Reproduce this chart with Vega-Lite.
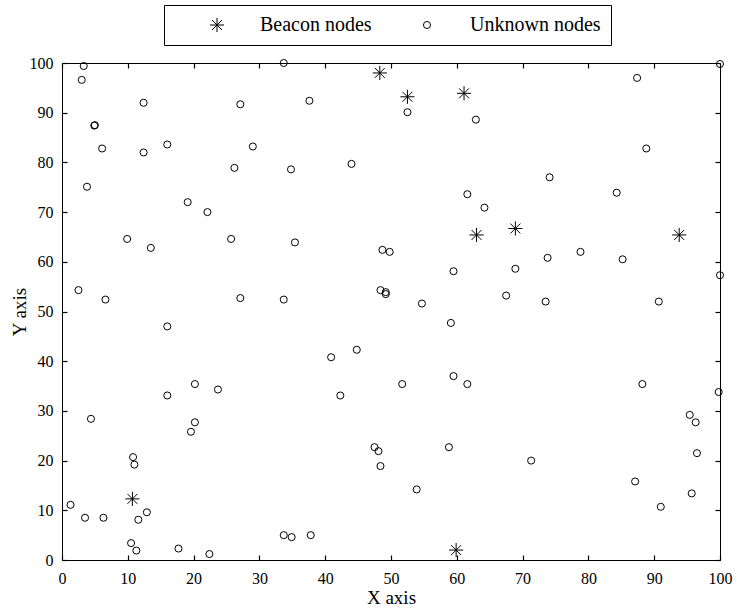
{
  "$schema": "https://vega.github.io/schema/vega-lite/v6.json",
  "width": 658,
  "height": 497,
  "autosize": {"type": "none"},
  "padding": {"left": 62, "top": 63, "right": 17, "bottom": 50},
  "background": "white",
  "config": {
    "font": "Liberation Serif",
    "view": {"stroke": "black", "strokeWidth": 1},
    "axis": {
      "grid": false,
      "domain": false,
      "offset": -5,
      "tickSize": 5,
      "tickColor": "black",
      "tickWidth": 1.2,
      "labelColor": "black",
      "titleColor": "black",
      "labelFont": "Liberation Serif",
      "titleFont": "Liberation Serif",
      "labelFontSize": 16,
      "titleFontSize": 19,
      "titleFontWeight": "normal",
      "labelFlush": false,
      "labelOverlap": false
    },
    "legend": {
      "orient": "none",
      "legendX": 102,
      "legendY": -58,
      "direction": "horizontal",
      "strokeColor": "black",
      "fillColor": "white",
      "padding": 10,
      "labelFont": "Liberation Serif",
      "labelFontSize": 20,
      "labelColor": "black",
      "symbolOffset": 33,
      "labelOffset": 33,
      "columnPadding": 12,
      "symbolStrokeColor": "black",
      "symbolStrokeWidth": 1,
      "symbolFillColor": "transparent"
    }
  },
  "data": {
    "values": [
      {"x": 48.3, "y": 98.0, "t": "Beacon nodes"},
      {"x": 52.5, "y": 93.2, "t": "Beacon nodes"},
      {"x": 61.1, "y": 93.9, "t": "Beacon nodes"},
      {"x": 63.0, "y": 65.4, "t": "Beacon nodes"},
      {"x": 68.9, "y": 66.7, "t": "Beacon nodes"},
      {"x": 93.8, "y": 65.4, "t": "Beacon nodes"},
      {"x": 10.7, "y": 12.3, "t": "Beacon nodes"},
      {"x": 59.9, "y": 2.0, "t": "Beacon nodes"},
      {"x": 3.3, "y": 99.4, "t": "Unknown nodes"},
      {"x": 3.0, "y": 96.6, "t": "Unknown nodes"},
      {"x": 12.4, "y": 92.0, "t": "Unknown nodes"},
      {"x": 27.1, "y": 91.7, "t": "Unknown nodes"},
      {"x": 4.9, "y": 87.4, "t": "Unknown nodes"},
      {"x": 5.0, "y": 87.5, "t": "Unknown nodes"},
      {"x": 6.1, "y": 82.8, "t": "Unknown nodes"},
      {"x": 12.4, "y": 82.0, "t": "Unknown nodes"},
      {"x": 16.0, "y": 83.6, "t": "Unknown nodes"},
      {"x": 26.2, "y": 78.9, "t": "Unknown nodes"},
      {"x": 3.8, "y": 75.1, "t": "Unknown nodes"},
      {"x": 19.1, "y": 72.0, "t": "Unknown nodes"},
      {"x": 22.1, "y": 70.0, "t": "Unknown nodes"},
      {"x": 9.9, "y": 64.6, "t": "Unknown nodes"},
      {"x": 13.5, "y": 62.8, "t": "Unknown nodes"},
      {"x": 25.7, "y": 64.6, "t": "Unknown nodes"},
      {"x": 2.5, "y": 54.3, "t": "Unknown nodes"},
      {"x": 6.6, "y": 52.4, "t": "Unknown nodes"},
      {"x": 27.1, "y": 52.7, "t": "Unknown nodes"},
      {"x": 16.0, "y": 47.0, "t": "Unknown nodes"},
      {"x": 33.7, "y": 100.0, "t": "Unknown nodes"},
      {"x": 37.6, "y": 92.4, "t": "Unknown nodes"},
      {"x": 29.0, "y": 83.2, "t": "Unknown nodes"},
      {"x": 34.8, "y": 78.6, "t": "Unknown nodes"},
      {"x": 44.0, "y": 79.7, "t": "Unknown nodes"},
      {"x": 52.5, "y": 90.1, "t": "Unknown nodes"},
      {"x": 62.9, "y": 88.6, "t": "Unknown nodes"},
      {"x": 61.6, "y": 73.6, "t": "Unknown nodes"},
      {"x": 35.4, "y": 63.9, "t": "Unknown nodes"},
      {"x": 48.7, "y": 62.4, "t": "Unknown nodes"},
      {"x": 49.8, "y": 62.0, "t": "Unknown nodes"},
      {"x": 59.5, "y": 58.1, "t": "Unknown nodes"},
      {"x": 33.7, "y": 52.4, "t": "Unknown nodes"},
      {"x": 48.4, "y": 54.3, "t": "Unknown nodes"},
      {"x": 49.2, "y": 53.9, "t": "Unknown nodes"},
      {"x": 49.2, "y": 53.5, "t": "Unknown nodes"},
      {"x": 54.7, "y": 51.6, "t": "Unknown nodes"},
      {"x": 59.1, "y": 47.7, "t": "Unknown nodes"},
      {"x": 100.0, "y": 99.8, "t": "Unknown nodes"},
      {"x": 87.4, "y": 97.0, "t": "Unknown nodes"},
      {"x": 88.8, "y": 82.8, "t": "Unknown nodes"},
      {"x": 74.1, "y": 77.0, "t": "Unknown nodes"},
      {"x": 84.3, "y": 73.9, "t": "Unknown nodes"},
      {"x": 64.2, "y": 70.9, "t": "Unknown nodes"},
      {"x": 73.8, "y": 60.8, "t": "Unknown nodes"},
      {"x": 78.8, "y": 62.0, "t": "Unknown nodes"},
      {"x": 85.2, "y": 60.5, "t": "Unknown nodes"},
      {"x": 68.9, "y": 58.6, "t": "Unknown nodes"},
      {"x": 100.0, "y": 57.3, "t": "Unknown nodes"},
      {"x": 67.5, "y": 53.2, "t": "Unknown nodes"},
      {"x": 73.5, "y": 52.0, "t": "Unknown nodes"},
      {"x": 90.7, "y": 52.0, "t": "Unknown nodes"},
      {"x": 20.2, "y": 35.4, "t": "Unknown nodes"},
      {"x": 23.7, "y": 34.3, "t": "Unknown nodes"},
      {"x": 16.0, "y": 33.1, "t": "Unknown nodes"},
      {"x": 4.4, "y": 28.4, "t": "Unknown nodes"},
      {"x": 20.2, "y": 27.7, "t": "Unknown nodes"},
      {"x": 19.6, "y": 25.8, "t": "Unknown nodes"},
      {"x": 10.8, "y": 20.7, "t": "Unknown nodes"},
      {"x": 11.0, "y": 19.2, "t": "Unknown nodes"},
      {"x": 1.3, "y": 11.1, "t": "Unknown nodes"},
      {"x": 3.5, "y": 8.5, "t": "Unknown nodes"},
      {"x": 6.3, "y": 8.5, "t": "Unknown nodes"},
      {"x": 12.9, "y": 9.6, "t": "Unknown nodes"},
      {"x": 11.6, "y": 8.1, "t": "Unknown nodes"},
      {"x": 10.5, "y": 3.4, "t": "Unknown nodes"},
      {"x": 11.3, "y": 1.9, "t": "Unknown nodes"},
      {"x": 17.7, "y": 2.3, "t": "Unknown nodes"},
      {"x": 22.4, "y": 1.2, "t": "Unknown nodes"},
      {"x": 40.9, "y": 40.8, "t": "Unknown nodes"},
      {"x": 44.8, "y": 42.3, "t": "Unknown nodes"},
      {"x": 42.3, "y": 33.1, "t": "Unknown nodes"},
      {"x": 51.7, "y": 35.4, "t": "Unknown nodes"},
      {"x": 59.5, "y": 37.0, "t": "Unknown nodes"},
      {"x": 61.6, "y": 35.4, "t": "Unknown nodes"},
      {"x": 47.5, "y": 22.7, "t": "Unknown nodes"},
      {"x": 48.1, "y": 21.9, "t": "Unknown nodes"},
      {"x": 48.4, "y": 18.9, "t": "Unknown nodes"},
      {"x": 58.8, "y": 22.7, "t": "Unknown nodes"},
      {"x": 53.9, "y": 14.2, "t": "Unknown nodes"},
      {"x": 33.7, "y": 5.0, "t": "Unknown nodes"},
      {"x": 34.9, "y": 4.6, "t": "Unknown nodes"},
      {"x": 37.8, "y": 5.0, "t": "Unknown nodes"},
      {"x": 88.2, "y": 35.4, "t": "Unknown nodes"},
      {"x": 99.8, "y": 33.8, "t": "Unknown nodes"},
      {"x": 95.4, "y": 29.2, "t": "Unknown nodes"},
      {"x": 96.3, "y": 27.7, "t": "Unknown nodes"},
      {"x": 96.5, "y": 21.5, "t": "Unknown nodes"},
      {"x": 71.3, "y": 20.0, "t": "Unknown nodes"},
      {"x": 87.1, "y": 15.8, "t": "Unknown nodes"},
      {"x": 95.7, "y": 13.4, "t": "Unknown nodes"},
      {"x": 91.0, "y": 10.7, "t": "Unknown nodes"}
    ]
  },
  "layer": [
    {
      "mark": {"type": "point", "filled": false, "color": "black", "strokeWidth": 1, "opacity": 1},
      "encoding": {
        "x": {
          "field": "x", "type": "quantitative",
          "scale": {"domain": [0, 100], "nice": false, "zero": false},
          "axis": {"orient": "bottom", "title": "X axis", "values": [0, 10, 20, 30, 40, 50, 60, 70, 80, 90, 100], "labelPadding": 10, "titlePadding": 2}
        },
        "y": {
          "field": "y", "type": "quantitative",
          "scale": {"domain": [0, 100], "nice": false, "zero": false},
          "axis": {"orient": "left", "title": "Y axis", "values": [0, 10, 20, 30, 40, 50, 60, 70, 80, 90, 100], "labelPadding": 9, "titlePadding": 0}
        },
        "shape": {
          "field": "t", "type": "nominal",
          "scale": {"domain": ["Beacon nodes", "Unknown nodes"], "range": ["M-1,0L1,0M0,-1L0,1M-0.7,-0.7L0.7,0.7M-0.7,0.7L0.7,-0.7", "circle"]},
          "legend": {"title": null}
        },
        "size": {
          "field": "t", "type": "nominal",
          "scale": {"domain": ["Beacon nodes", "Unknown nodes"], "range": [200, 50]},
          "legend": {"title": null}
        }
      }
    },
    {
      "mark": {"type": "point", "opacity": 0},
      "encoding": {
        "x": {
          "field": "x", "type": "quantitative",
          "scale": {"domain": [0, 100], "nice": false, "zero": false},
          "axis": {"orient": "top", "title": null, "labels": false, "values": [0, 10, 20, 30, 40, 50, 60, 70, 80, 90, 100]}
        },
        "y": {
          "field": "y", "type": "quantitative",
          "scale": {"domain": [0, 100], "nice": false, "zero": false},
          "axis": {"orient": "right", "title": null, "labels": false, "values": [0, 10, 20, 30, 40, 50, 60, 70, 80, 90, 100]}
        }
      }
    }
  ],
  "resolve": {"axis": {"x": "independent", "y": "independent"}}
}
